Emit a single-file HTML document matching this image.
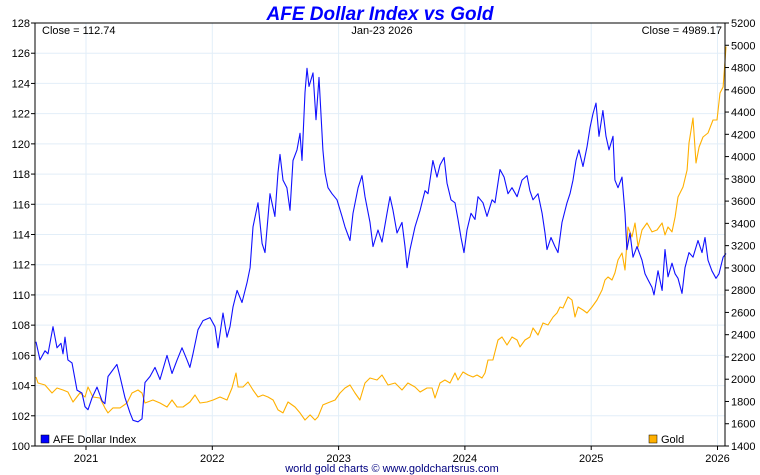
<!DOCTYPE html>
<html><head><meta charset="utf-8"><style>
html,body{margin:0;padding:0;background:#fff;}
svg{display:block;font-family:"Liberation Sans",Arial,sans-serif;}
</style></head><body>
<svg id="chart" width="760" height="475" viewBox="0 0 760 475">
<rect x="0" y="0" width="760" height="475" fill="#fff"/>
<text x="380" y="20" text-anchor="middle" font-size="19" font-weight="bold" font-style="italic" fill="#0000ff">AFE Dollar Index vs Gold</text>
<g id="grid"></g>
<g id="series"></g>
<g id="axes"></g>
<text x="42" y="34" font-size="11" fill="#000">Close = 112.74</text>
<text x="382" y="34" text-anchor="middle" font-size="11" fill="#000">Jan-23  2026</text>
<text x="722" y="34" text-anchor="end" font-size="11" fill="#000">Close = 4989.17</text>
<g>
<rect x="41" y="435" width="8" height="8" fill="#0000ff" stroke="#000" stroke-width="0.5"/>
<text x="53" y="443" font-size="11" fill="#000">AFE Dollar Index</text>
</g>
<g>
<rect x="649" y="435" width="8" height="8" fill="#ffb000" stroke="#000" stroke-width="0.5"/>
<text x="661" y="443" font-size="11" fill="#000">Gold</text>
</g>
<text x="392" y="472" text-anchor="middle" font-size="11" fill="#000080">world gold charts © www.goldchartsrus.com</text>
</svg>
<script>
const yearTicks = [2021, 2022, 2023, 2024, 2025, 2026];
const leftTicks = [100,102,104,106,108,110,112,114,116,118,120,122,124,126,128];
const rightTicks = [1400,1600,1800,2000,2200,2400,2600,2800,3000,3200,3400,3600,3800,4000,4200,4400,4600,4800,5000,5200];

const dollarDates = [2020.604,2020.636,2020.675,2020.699,2020.739,2020.770,2020.802,2020.818,2020.834,2020.857,2020.889,2020.929,2020.968,2020.992,2021.016,2021.048,2021.087,2021.127,2021.150,2021.174,2021.245,2021.269,2021.309,2021.348,2021.372,2021.412,2021.443,2021.467,2021.507,2021.546,2021.586,2021.641,2021.681,2021.721,2021.760,2021.800,2021.823,2021.847,2021.887,2021.926,2021.982,2022.021,2022.045,2022.085,2022.116,2022.140,2022.164,2022.196,2022.235,2022.275,2022.299,2022.322,2022.362,2022.394,2022.417,2022.457,2022.496,2022.520,2022.536,2022.560,2022.591,2022.615,2022.639,2022.671,2022.694,2022.710,2022.734,2022.750,2022.766,2022.797,2022.821,2022.845,2022.876,2022.892,2022.916,2022.948,2022.987,2023.027,2023.051,2023.090,2023.114,2023.154,2023.185,2023.209,2023.249,2023.272,2023.312,2023.344,2023.383,2023.407,2023.431,2023.462,2023.502,2023.526,2023.542,2023.565,2023.605,2023.645,2023.684,2023.708,2023.747,2023.779,2023.803,2023.835,2023.858,2023.890,2023.922,2023.945,2023.969,2023.993,2024.017,2024.048,2024.080,2024.104,2024.143,2024.175,2024.215,2024.238,2024.278,2024.310,2024.341,2024.373,2024.413,2024.452,2024.492,2024.515,2024.539,2024.579,2024.611,2024.634,2024.650,2024.682,2024.713,2024.737,2024.769,2024.808,2024.832,2024.856,2024.880,2024.903,2024.935,2024.967,2024.991,2025.014,2025.038,2025.062,2025.093,2025.117,2025.141,2025.173,2025.188,2025.212,2025.244,2025.268,2025.283,2025.307,2025.331,2025.363,2025.402,2025.426,2025.450,2025.481,2025.497,2025.529,2025.561,2025.584,2025.608,2025.640,2025.664,2025.687,2025.719,2025.743,2025.774,2025.806,2025.846,2025.877,2025.901,2025.925,2025.956,2025.988,2026.012,2026.044,2026.067];
const dollarValues = [106.9,105.7,106.3,106.1,107.9,106.5,106.8,106.1,107.2,105.7,105.5,103.7,103.5,102.6,102.4,103.2,103.9,103.0,102.8,104.6,105.4,104.6,103.2,102.2,101.7,101.6,101.8,104.2,104.6,105.2,104.4,106.0,104.8,105.7,106.5,105.7,105.2,106.1,107.7,108.3,108.5,107.9,106.5,108.8,107.2,107.9,109.2,110.3,109.5,110.8,111.8,114.5,116.1,113.4,112.8,116.7,115.2,118.1,119.3,117.6,117.1,115.6,118.9,119.6,120.7,118.9,123.4,125.0,123.8,124.7,121.6,124.4,119.6,118.1,117.1,116.7,116.3,115.2,114.5,113.6,115.4,117.1,117.9,116.5,114.8,113.2,114.3,113.5,115.4,116.5,115.6,114.1,114.8,113.2,111.8,113.0,114.5,115.6,116.9,116.7,118.9,117.8,118.6,119.1,117.4,116.3,116.1,115.0,113.8,112.8,114.3,115.4,115.0,116.5,116.1,115.2,116.3,116.1,118.3,117.8,116.7,117.1,116.5,117.6,117.9,116.9,116.3,116.7,115.4,114.1,113.0,113.8,113.2,112.8,114.8,116.1,116.7,117.6,118.9,119.6,118.5,119.8,121.1,122.0,122.7,120.5,122.2,120.5,119.6,120.5,117.6,117.1,117.8,115.4,113.0,114.1,112.5,113.2,112.3,111.4,111.0,110.5,110.0,111.6,110.3,113.0,111.2,112.1,111.4,111.1,110.1,111.8,112.8,112.5,113.6,112.8,113.8,112.3,111.6,111.1,111.4,112.5,112.74];

const goldDates = [2020.604,2020.620,2020.675,2020.731,2020.770,2020.818,2020.857,2020.897,2020.952,2020.992,2021.016,2021.055,2021.111,2021.150,2021.174,2021.214,2021.269,2021.325,2021.364,2021.412,2021.443,2021.467,2021.530,2021.586,2021.641,2021.681,2021.721,2021.768,2021.823,2021.863,2021.903,2021.958,2022.006,2022.061,2022.116,2022.156,2022.188,2022.204,2022.243,2022.283,2022.322,2022.362,2022.401,2022.441,2022.481,2022.520,2022.560,2022.599,2022.655,2022.694,2022.734,2022.774,2022.813,2022.837,2022.876,2022.932,2022.972,2023.011,2023.051,2023.090,2023.130,2023.169,2023.209,2023.249,2023.304,2023.344,2023.391,2023.447,2023.502,2023.549,2023.605,2023.645,2023.700,2023.740,2023.763,2023.803,2023.842,2023.882,2023.922,2023.945,2023.985,2024.025,2024.064,2024.096,2024.135,2024.159,2024.183,2024.222,2024.262,2024.294,2024.333,2024.373,2024.413,2024.436,2024.476,2024.515,2024.539,2024.579,2024.618,2024.658,2024.698,2024.729,2024.753,2024.777,2024.816,2024.848,2024.872,2024.896,2024.935,2024.967,2025.006,2025.046,2025.086,2025.109,2025.133,2025.165,2025.188,2025.212,2025.244,2025.268,2025.291,2025.323,2025.347,2025.371,2025.402,2025.442,2025.481,2025.521,2025.561,2025.584,2025.608,2025.640,2025.664,2025.687,2025.727,2025.759,2025.774,2025.806,2025.830,2025.854,2025.885,2025.925,2025.964,2025.996,2026.020,2026.044,2026.060,2026.067];
const goldValues = [2020,1966,1948,1876,1921,1903,1885,1795,1876,1840,1930,1840,1831,1742,1697,1742,1742,1786,1876,1903,1876,1786,1813,1786,1750,1813,1750,1750,1795,1858,1786,1795,1813,1840,1813,1921,2056,1930,1930,1975,1903,1840,1858,1840,1813,1724,1697,1795,1750,1697,1634,1679,1634,1661,1769,1795,1813,1876,1921,1948,1876,1813,1966,2011,1993,2038,1948,1966,1903,1966,1930,1885,1921,1921,1831,1966,1993,1966,2056,1993,2065,2038,2020,2038,2011,2056,2173,2173,2352,2379,2307,2379,2352,2290,2352,2379,2460,2397,2505,2487,2559,2595,2649,2640,2739,2712,2559,2649,2622,2595,2649,2712,2802,2891,2918,2891,2954,3071,3134,2981,3367,3278,3403,3188,3340,3403,3323,3340,3403,3296,3367,3323,3457,3637,3727,3879,4122,4347,3942,4086,4176,4212,4329,4329,4571,4625,4868,4989.17];

const L = 35, R = 725, T = 23, B = 446;
const NS = 'http://www.w3.org/2000/svg';
function xOf(yr){ return 86 + (yr - 2021) * 126.3; }
function yLeft(v){ return B - (v - 100) / 28 * (B - T); }
function yRight(v){ return B - (v - 1400) / 3800 * (B - T); }
function mk(tag, attrs, parent){
  const e = document.createElementNS(NS, tag);
  for (const k in attrs) e.setAttribute(k, attrs[k]);
  parent.appendChild(e);
  return e;
}
const grid = document.getElementById('grid');
const axes = document.getElementById('axes');
const series = document.getElementById('series');

leftTicks.forEach(v => {
  const y = yLeft(v);
  if (v > 100 && v < 128) {
    const g = mk('line', {x1:L, x2:R, y1:y, y2:y, stroke:'#e2eef8', 'stroke-width':1}, grid);
    
    
  }
  const t = mk('line', {x1:L-4, x2:L, y1:y, y2:y, stroke:'#000', 'stroke-width':1}, axes);
  
  
  const lb = mk('text', {x:L-5, y:y+4, 'text-anchor':'end', 'font-size':11, fill:'#000'}, axes);
  lb.textContent = v;
  
  
});
rightTicks.forEach(v => {
  const y = yRight(v);
  const t = mk('line', {x1:R, x2:R+4, y1:y, y2:y, stroke:'#000', 'stroke-width':1}, axes);
  
  
  const lb = mk('text', {x:R+6, y:y+4, 'font-size':11, fill:'#000'}, axes);
  lb.textContent = v;
  
  
});
yearTicks.forEach(yr => {
  const x = xOf(yr);
  const g = mk('line', {x1:x, x2:x, y1:T, y2:B, stroke:'#e2eef8', 'stroke-width':1}, grid);
  
  
  const t = mk('line', {x1:x, x2:x, y1:B, y2:B+4, stroke:'#000', 'stroke-width':1}, axes);
  
  
  const lb = mk('text', {x:x, y:B+16, 'text-anchor':'middle', 'font-size':11, fill:'#000'}, axes);
  lb.textContent = yr;
  
  
});
const frame = mk('path', {d:`M${L},${T}H${R}V${B}H${L}Z`, fill:'none', stroke:'#000', 'stroke-width':1}, axes);



const gp = goldDates.map((d,i)=>`${xOf(d).toFixed(1)},${yRight(goldValues[i]).toFixed(1)}`).join(' ');
const gl = mk('polyline', {points:gp, fill:'none', stroke:'#ffb000', 'stroke-width':1.1, 'stroke-linejoin':'round'}, series);


const dp = dollarDates.map((d,i)=>`${xOf(d).toFixed(1)},${yLeft(dollarValues[i]).toFixed(1)}`).join(' ');
const dl = mk('polyline', {points:dp, fill:'none', stroke:'#1010ff', 'stroke-width':1.1, 'stroke-linejoin':'round'}, series);


</script>
</body></html>
